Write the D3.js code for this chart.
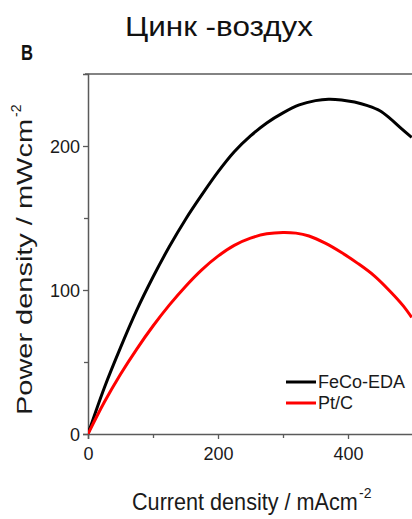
<!DOCTYPE html>
<html>
<head>
<meta charset="utf-8">
<script src="https://cdn.jsdelivr.net/npm/d3@7"></script>
<style>
  html, body { margin: 0; padding: 0; background: #fff; }
  svg { display: block; }
  text { font-family: "Liberation Sans", Arial, sans-serif; }
</style>
</head>
<body>
<svg id="chart" width="412" height="519"></svg>
<script>
// ---- data ----
const seriesNames = ["FeCo-EDA", "Pt/C"];
const seriesColors = ["#000000", "#ff0000"];
const fecoX = [0, 25, 50, 75, 100, 125, 150, 175, 200, 225, 250, 275, 300, 325, 350, 370, 390, 410, 430, 449, 465, 480, 498];
const fecoY = [0, 32, 60, 86, 109, 130, 149, 166, 182, 196, 207, 216, 223, 228.5, 231.5, 232.5, 232, 230.5, 228, 224.5, 219, 213, 206];
const ptcX = [0, 25, 50, 75, 100, 125, 150, 175, 200, 225, 250, 275, 300, 320, 340, 365, 390, 415, 440, 465, 485, 498];
const ptcY = [0, 22, 41.5, 59, 75, 89.5, 102.5, 114, 123.5, 131, 136, 139, 140, 139.5, 137.5, 132.5, 126, 118.5, 110, 99, 89, 81];
const xTicks = [0, 200, 400];
const xMinorTicks = [100, 300];
const yTicks = [0, 100, 200];
const yMinorTicks = [50, 150];
const titleText = "Цинк -воздух";
const panelLabel = "B";
const xLabel = "Current density / mAcm";
const yLabel = "Power density / mWcm";
const unitExp = "-2";

// ---- layout ----
const svg = d3.select("#chart");
const m = { left: 88, top: 74, right: 413, bottom: 434 };
const x = d3.scaleLinear().domain([0, 500]).range([m.left, m.right]);
const y = d3.scaleLinear().domain([0, 250]).range([m.bottom, m.top]);
const axisColor = "#5a5a5a";
const textColor = "#1a1a1a";

// title
svg.append("text").attr("x", 125).attr("y", 36)
  .attr("textLength", 188).attr("lengthAdjust", "spacingAndGlyphs")
  .style("font-size", "28px").attr("fill", "#111").text(titleText);
// panel label
svg.append("text").attr("x", 21).attr("y", 60)
  .attr("textLength", 12).attr("lengthAdjust", "spacingAndGlyphs")
  .style("font-size", "22px").style("font-weight", "bold").attr("fill", "#111").text(panelLabel);

// top frame line
svg.append("line").attr("x1", m.left - 3).attr("x2", m.right)
  .attr("y1", m.top).attr("y2", m.top).attr("stroke", axisColor).attr("stroke-width", 1.5);

// x axis
const gx = svg.append("g").attr("transform", `translate(0,${m.bottom})`)
  .call(d3.axisBottom(x).tickValues(xTicks).tickSize(5).tickPadding(4).tickFormat(d3.format("d")));
svg.append("g").attr("transform", `translate(0,${m.bottom})`)
  .call(d3.axisBottom(x).tickValues(xMinorTicks).tickSize(4).tickFormat(""))
  .call(g => g.select(".domain").remove());
// y axis
const gy = svg.append("g").attr("transform", `translate(${m.left},0)`)
  .call(d3.axisLeft(y).tickValues(yTicks).tickSize(5).tickPadding(3).tickFormat(d3.format("d")));
svg.append("g").attr("transform", `translate(${m.left},0)`)
  .call(d3.axisLeft(y).tickValues(yMinorTicks).tickSize(4).tickFormat(""))
  .call(g => g.select(".domain").remove());

svg.selectAll(".domain").attr("stroke", axisColor).attr("stroke-width", 1.5);
svg.selectAll(".tick line").attr("stroke", axisColor).attr("stroke-width", 1.3);
svg.selectAll(".tick text").style("font-size", "18px").attr("fill", textColor)
  .style("font-family", "'Liberation Sans', Arial, sans-serif");
gx.selectAll(".tick text").attr("dy", "0.95em");
gy.selectAll(".tick text").attr("dy", "0.35em");

// axis titles
svg.append("text").attr("transform", "translate(132,510) scale(0.94,1)")
  .style("font-size", "23px").attr("fill", textColor).text(xLabel);
svg.append("text").attr("x", 359).attr("y", 498).style("font-size", "14px").attr("fill", textColor).text(unitExp);

svg.append("text").attr("transform", "translate(32,415) rotate(-90)")
  .style("font-size", "22px").attr("fill", textColor)
  .attr("textLength", 296).attr("lengthAdjust", "spacingAndGlyphs").text(yLabel);
svg.append("text").attr("transform", "translate(21,117) rotate(-90)")
  .style("font-size", "14px").attr("fill", textColor).text(unitExp);

// lines
svg.append("clipPath").attr("id", "clip").append("rect")
  .attr("x", m.left).attr("y", m.top - 5).attr("width", m.right - m.left).attr("height", m.bottom - m.top + 5);
const line = d3.line().x(d => x(d[0])).y(d => y(d[1])).curve(d3.curveCatmullRom.alpha(0.5));
const series = [d3.zip(fecoX, fecoY), d3.zip(ptcX, ptcY)];
series.forEach((s, i) => {
  svg.append("path").datum(s).attr("d", line).attr("fill", "none")
    .attr("stroke", seriesColors[i]).attr("stroke-width", 3).attr("stroke-linejoin", "round")
    .attr("clip-path", "url(#clip)");
});

// legend
const lg = svg.append("g");
seriesNames.forEach((n, i) => {
  const yy = 382 + i * 21;
  lg.append("line").attr("x1", 286).attr("x2", 316).attr("y1", yy).attr("y2", yy)
    .attr("stroke", seriesColors[i]).attr("stroke-width", 3);
  lg.append("text").attr("x", 318).attr("y", yy).attr("dy", "0.35em")
    .style("font-size", "18px").attr("fill", textColor).text(n);
});
</script>
</body>
</html>
